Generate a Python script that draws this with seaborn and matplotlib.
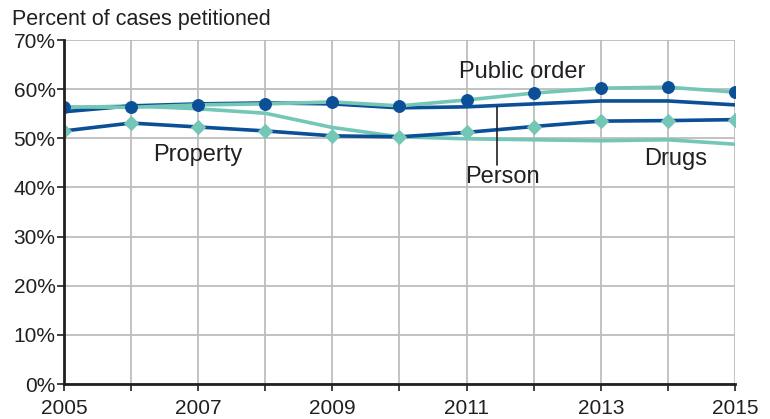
import numpy as np
import pandas as pd
import matplotlib
matplotlib.use("Agg")
import matplotlib.pyplot as plt
import seaborn as sns

# === Data ===
years = list(range(2005, 2016))
public_order = [56.4, 56.3, 56.8, 57.0, 57.4, 56.6, 57.8, 59.2, 60.2, 60.4, 59.4]
person = [55.4, 56.6, 57.0, 57.2, 57.0, 56.2, 56.4, 57.0, 57.6, 57.6, 56.8]
property_ = [51.5, 53.1, 52.3, 51.5, 50.5, 50.3, 51.2, 52.4, 53.5, 53.6, 53.8]
drugs = [56.2, 56.6, 56.0, 55.1, 52.2, 50.3, 49.9, 49.7, 49.5, 49.7, 48.8]
yticks = [0, 10, 20, 30, 40, 50, 60, 70]
xtick_labels = [2005, 2007, 2009, 2011, 2013, 2015]

NAVY = "#0b4f97"
TEAL = "#74c7b6"
INK = "#231f20"

sns.set_style("white")
plt.rcParams["font.family"] = ["Liberation Sans", "DejaVu Sans"]

fig = plt.figure(figsize=(7.7, 4.19), dpi=100)
ax = fig.add_axes([0.0831, 0.0835, 0.8714, 0.821])

# 1. Lines
sns.lineplot(x=years, y=drugs, color=TEAL, lw=2.6, ax=ax, zorder=3)
sns.lineplot(x=years, y=person, color=NAVY, lw=2.6, ax=ax, zorder=3)
sns.lineplot(x=years, y=public_order, color=TEAL, lw=2.6, marker="o", markersize=8.5,
             markerfacecolor=NAVY, markeredgecolor=NAVY, ax=ax, zorder=4)
sns.lineplot(x=years, y=property_, color=NAVY, lw=2.6, marker="D", markersize=7.5,
             markerfacecolor=TEAL, markeredgecolor=TEAL, ax=ax, zorder=4)

# 2. Axes, grid
ax.set_xlim(2005, 2015)
ax.set_ylim(0, 70)
ax.set_xticks(years)
ax.set_xticklabels([str(y) if y in xtick_labels else "" for y in years])
ax.set_yticks(yticks)
ax.set_yticklabels([f"{v}%" for v in yticks])
ax.grid(True, color="#bdbdbd", lw=1.3)
ax.set_axisbelow(True)
for s in ["top", "right"]:
    ax.spines[s].set_visible(False)
for s in ["left", "bottom"]:
    ax.spines[s].set_color(INK)
    ax.spines[s].set_linewidth(2)
    ax.spines[s].set_zorder(5)
ax.tick_params(axis="both", labelsize=15, colors=INK, length=5, width=1.2,
               direction="out", bottom=True, left=True, pad=1)
ax.tick_params(axis="x", pad=6)
ax.set_xlabel("")
ax.set_ylabel("")

# 3. Labels
lab = dict(fontsize=17, ha="center", va="baseline", color=INK)
ax.text(2011.83, 62.3, "Public order", **lab)
ax.text(2007.0, 45.4, "Property", **lab)
ax.text(2014.12, 44.6, "Drugs", **lab)
ax.text(2011.53, 40.9, "Person", **lab)
ax.plot([2011.45, 2011.45], [56.3, 44.6], color=INK, lw=1.2, zorder=5)
fig.text(0.015, 0.953, "Percent of cases petitioned", fontsize=15.5, ha="left", va="center",
         color=INK)

plt.savefig("out.png", dpi=100)
